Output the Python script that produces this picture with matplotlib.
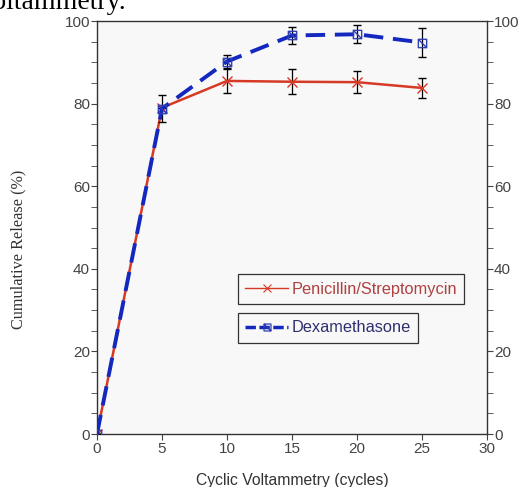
import numpy as np
import matplotlib
matplotlib.use("Agg")
import matplotlib.pyplot as plt
from matplotlib.path import Path
from matplotlib.ticker import MultipleLocator

# data
cycles = [0, 5, 10, 15, 20, 25]
pen_strep = [0, 79.0, 85.5, 85.3, 85.2, 83.8]
pen_strep_err = [0, 0, 3.0, 3.0, 2.7, 2.5]
dexa = [0, 78.8, 90.2, 96.5, 96.8, 94.8]
dexa_err = [0, 3.2, 1.5, 2.0, 2.2, 3.5]

plt.rcParams['font.family'] = ['Liberation Sans', 'DejaVu Sans']

# square with a diagonal, like the original marker
box_marker = Path(
    [(-1, -1), (1, -1), (1, 1), (-1, 1), (-1, -1), (-1, 1), (1, -1)],
    [Path.MOVETO, Path.LINETO, Path.LINETO, Path.LINETO, Path.CLOSEPOLY,
     Path.MOVETO, Path.LINETO])

fig = plt.figure(figsize=(5.2, 4.87), dpi=100)
ax = fig.add_axes([0.1865, 0.1088, 0.75, 0.848])
ax.set_facecolor('#f8f8f8')

red = '#d63a25'
blue = '#1428c0'

ax.errorbar(cycles, pen_strep, yerr=pen_strep_err, color=red, lw=1.8,
            marker='x', ms=7, mew=1.0, ecolor='black', elinewidth=0.9,
            capsize=3, capthick=0.9, zorder=3)
ax.errorbar(cycles, dexa, yerr=dexa_err, color=blue, lw=2.8,
            ls=(0, (5, 2.5)), marker=box_marker, ms=6, mew=1.0, mfc='none',
            mec='#3040b0', ecolor='black', elinewidth=0.9,
            capsize=3, capthick=0.9, zorder=4)

ax.set_xlim(0, 30)
ax.set_ylim(0, 100)
ax.xaxis.set_major_locator(MultipleLocator(5))
ax.yaxis.set_major_locator(MultipleLocator(20))
ax.yaxis.set_minor_locator(MultipleLocator(5))
ax.tick_params(axis='both', which='both', direction='out', colors='#444444',
               labelsize=11, pad=1)
ax.tick_params(axis='y', which='both', right=True, labelright=True, length=4)
ax.tick_params(axis='x', length=4, pad=2)
for s in ax.spines.values():
    s.set_color('#333333')
    s.set_linewidth(1.0)

ax.set_xlabel('Cyclic Voltammetry (cycles)', fontsize=11.3, color='#333333',
              labelpad=12)
ax.set_ylabel('Cumulative Release (%)', fontsize=11.7, color='#333333',
              family=['Liberation Serif', 'DejaVu Serif'])
ax.yaxis.set_label_coords(-0.18, 0.448)

h1, = ax.plot([], [], color=red, lw=1.0, marker='x', ms=6, mew=0.8)
h2, = ax.plot([], [], color=blue, lw=2.5, ls=(0, (3, 1)), marker=box_marker,
              ms=5, mfc='none', mec='#3040b0', mew=0.9)
leg1 = ax.legend([h1], ['Penicillin/Streptomycin'], loc='upper left',
                 bbox_to_anchor=(0.3615, 0.387), fancybox=False,
                 edgecolor='#333333', framealpha=1, facecolor='#f8f8f8',
                 fontsize=11.8, labelcolor='#b04040', handlelength=2.6,
                 handletextpad=0.2, borderpad=0.45, borderaxespad=0)
leg1.get_frame().set_linewidth(0.9)
ax.add_artist(leg1)
leg2 = ax.legend([h2], ['Dexamethasone'], loc='upper left',
                 bbox_to_anchor=(0.3615, 0.293), fancybox=False,
                 edgecolor='#333333', framealpha=1, facecolor='#f8f8f8',
                 fontsize=11.8, labelcolor='#303070', handlelength=2.6,
                 handletextpad=0.2, borderpad=0.45, borderaxespad=0)
leg2.get_frame().set_linewidth(0.9)

# clipped caption text at the very top of the page
fig.text(-0.045, 1 - 9 / 487, 'Voltammetry.', fontsize=20,
         family=['Liberation Serif', 'DejaVu Serif'], va='baseline',
         color='black')

fig.savefig('out.png', dpi=100)
